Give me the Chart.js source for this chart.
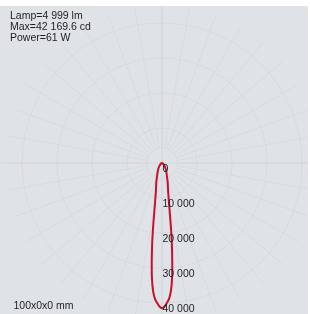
<!DOCTYPE html>
<html><head><meta charset="utf-8">
<script src="https://cdn.jsdelivr.net/npm/chart.js@4.4.1/dist/chart.umd.min.js"></script>
<style>
html,body{margin:0;padding:0;background:#fff;}
#wrap{position:absolute;left:0;top:6px;width:308px;height:308px;background:#dfe2e7;}
</style></head><body>
<div id="wrap"><canvas id="c"></canvas></div>
<script>
// Luminous intensity (cd) vs angle (deg, 0 = straight down)
const angles = [-90,-80,-70,-60,-50,-40,-30,-25,-20,-17,-14,-12,-10,-9,-8,-7,-6,-5,-4,-3,-2,-1,0,1,2,3,4,5,6,7,8,9,10,12,14,17,20,25,30,40,50,60,70,80,90];
const intensity = [0,60,150,300,600,1200,2300,3000,4200,5500,7000,8500,11500,14000,18000,23000,28000,33000,36600,38800,40000,41000,41500,41000,40000,38800,36600,33000,28000,23000,18000,14000,11500,8500,7000,5500,4200,3000,2300,1200,600,300,150,60,0];
const tickValues = [0,10000,20000,30000,40000];
const tickLabels = ['0','10 000','20 000','30 000','40 000'];
const gridCircles = [10000,20000,30000,40000];
const spokeAngles = [0,10,20,30,40,50,60,70,80,90,100,110,120,130,140,150,160,170,180,190,200,210,220,230,240,250,260,270,280,290,300,310,320,330,340,350];
const spokeRange = [4300,45000];
const infoLines = ['Lamp=4 999 lm','Max=42 169.6 cd','Power=61 W'];
const sizeLabel = '100x0x0 mm';

const points = angles.map((a,i)=>{
  const r = a*Math.PI/180;
  return {x: intensity[i]*Math.sin(r), y: -intensity[i]*Math.cos(r)};
});

const FONT = '10.5px "Liberation Sans", Arial, sans-serif';

const polarGrid = {
  id:'polarGrid',
  beforeDatasetsDraw(chart){
    const {ctx, chartArea:ca} = chart;
    const xs = chart.scales.x, ys = chart.scales.y;
    const cx = xs.getPixelForValue(0), cy = ys.getPixelForValue(0);
    const rp = v => xs.getPixelForValue(v) - cx;
    ctx.save();
    ctx.lineWidth = 1;
    // full axes
    ctx.strokeStyle = 'rgba(0,0,0,0.045)';
    ctx.beginPath();
    ctx.moveTo(ca.left, cy); ctx.lineTo(ca.right, cy);
    ctx.moveTo(cx, ca.top); ctx.lineTo(cx, ca.bottom);
    ctx.stroke();
    ctx.strokeStyle = 'rgba(0,0,0,0.035)';
    // circles
    [spokeRange[0], ...gridCircles].forEach(v=>{
      ctx.beginPath(); ctx.arc(cx, cy, rp(v), 0, Math.PI*2); ctx.stroke();
    });
    // spokes
    const r0 = rp(spokeRange[0]), r1 = rp(spokeRange[1]);
    spokeAngles.forEach(a=>{
      const t = a*Math.PI/180;
      ctx.beginPath();
      ctx.moveTo(cx + r0*Math.sin(t), cy + r0*Math.cos(t));
      ctx.lineTo(cx + r1*Math.sin(t), cy + r1*Math.cos(t));
      ctx.stroke();
    });
    ctx.restore();
  },
  afterDatasetsDraw(chart){
    const {ctx, chartArea:ca} = chart;
    const xs = chart.scales.x, ys = chart.scales.y;
    const cx = xs.getPixelForValue(0);
    ctx.save();
    ctx.font = FONT;
    ctx.fillStyle = '#1e1e1e';
    ctx.textAlign = 'left';
    ctx.textBaseline = 'middle';
    tickValues.forEach((v,i)=>{
      ctx.fillText(tickLabels[i], cx + 0.5, ys.getPixelForValue(-v) + 6.5);
    });
    infoLines.forEach((s,i)=>{
      ctx.fillText(s, ca.left + 10, ca.top + 10 + i*11);
    });
    ctx.fillText(sizeLabel, ca.left + 13.5, ca.bottom - 7.5);
    ctx.restore();
  }
};

new Chart(document.getElementById('c'), {
  type:'scatter',
  data:{datasets:[{
    data: points,
    showLine:true,
    borderColor:'#c8102e',
    borderWidth:2,
    pointRadius:0,
    tension:0.3,
    fill:false
  }]},
  options:{
    responsive:true,
    maintainAspectRatio:false,
    animation:false,
    layout:{padding:0},
    plugins:{legend:{display:false}, tooltip:{enabled:false}},
    scales:{
      x:{type:'linear', min:-46285.7, max:41714.3, display:false},
      y:{type:'linear', min:-43142.9, max:44857.1, display:false}
    }
  },
  plugins:[polarGrid]
});
</script>
</body></html>
